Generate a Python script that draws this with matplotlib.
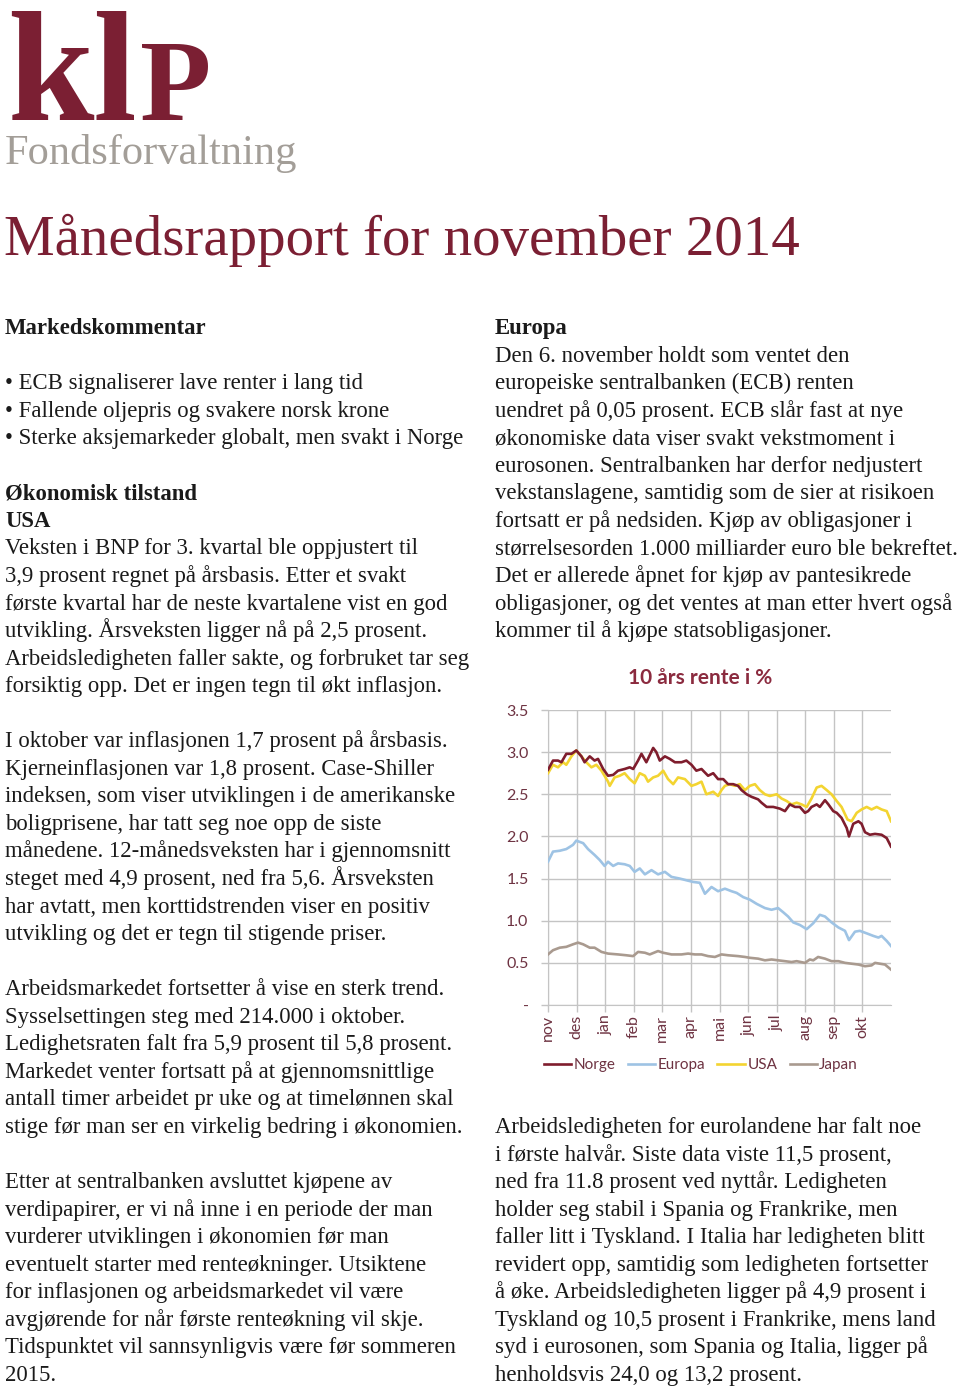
"""Klp Fondsforvaltning - månedsrapport november 2014, side med rentegraf."""

import matplotlib
matplotlib.use("Agg")
import matplotlib.pyplot as plt

# ---- data: 10 års rente i % (x = måneder etter 1. nov 2013) ----
months = ["nov", "des", "jan", "feb", "mar", "apr", "mai", "jun", "jul", "aug", "sep", "okt"]
y_ticks = [0.0, 0.5, 1.0, 1.5, 2.0, 2.5, 3.0, 3.5]
y_tick_labels = ["-", "0.5", "1.0", "1.5", "2.0", "2.5", "3.0", "3.5"]

norge_x = [0.00, 0.175, 0.35, 0.47, 0.64, 0.82, 0.99, 1.17, 1.28, 1.46, 1.63, 1.75, 1.93, 2.10,
           2.28, 2.45, 2.68, 2.86, 2.98, 3.15, 3.27, 3.44, 3.68, 3.79, 3.91, 4.09, 4.26, 4.44,
           4.67, 4.84, 5.02, 5.19, 5.37, 5.60, 5.78, 5.95, 6.13, 6.30, 6.48, 6.65, 6.77, 6.95,
           7.12, 7.35, 7.47, 7.65, 7.88, 8.11, 8.29, 8.46, 8.64, 8.81, 8.99, 9.10, 9.22, 9.40,
           9.51, 9.69, 9.81, 9.98, 10.10, 10.27, 10.45, 10.53, 10.68, 10.86, 10.97, 11.09,
           11.26, 11.44, 11.67, 11.85, 12.00]
norge_y = [2.79, 2.90, 2.90, 2.88, 2.98, 2.98, 3.02, 2.95, 2.88, 2.95, 2.90, 2.92, 2.80, 2.72,
           2.73, 2.78, 2.80, 2.82, 2.80, 2.90, 2.98, 2.88, 3.05, 3.00, 2.90, 2.95, 2.92, 2.88,
           2.88, 2.90, 2.85, 2.78, 2.80, 2.72, 2.75, 2.68, 2.68, 2.62, 2.62, 2.60, 2.55, 2.50,
           2.47, 2.44, 2.40, 2.35, 2.35, 2.33, 2.30, 2.38, 2.35, 2.35, 2.28, 2.30, 2.35, 2.38,
           2.35, 2.43, 2.38, 2.30, 2.28, 2.22, 2.10, 2.00, 2.15, 2.18, 2.15, 2.05,
           2.02, 2.03, 2.02, 1.98, 1.88]

europa_x = [0.00, 0.175, 0.41, 0.64, 0.875, 0.99, 1.23, 1.40, 1.63, 1.81, 1.98, 2.10, 2.28, 2.45,
            2.68, 2.86, 3.03, 3.21, 3.39, 3.62, 3.85, 4.09, 4.32, 4.61, 4.84, 5.08, 5.31, 5.49,
            5.72, 5.95, 6.19, 6.42, 6.60, 6.83, 7.06, 7.30, 7.59, 7.82, 8.05, 8.23, 8.40, 8.58,
            8.81, 9.05, 9.28, 9.51, 9.69, 9.92, 10.16, 10.39, 10.53, 10.74, 10.91, 11.15, 11.38,
            11.56, 11.67, 11.85, 12.00]
europa_y = [1.70, 1.82, 1.83, 1.85, 1.90, 1.95, 1.92, 1.85, 1.78, 1.72, 1.65, 1.70, 1.65, 1.68,
            1.67, 1.65, 1.58, 1.62, 1.55, 1.60, 1.55, 1.58, 1.52, 1.50, 1.48, 1.46, 1.45, 1.32,
            1.40, 1.35, 1.38, 1.35, 1.33, 1.28, 1.25, 1.20, 1.15, 1.13, 1.15, 1.10, 1.05, 0.98,
            0.95, 0.90, 0.97, 1.07, 1.05, 0.98, 0.92, 0.88, 0.77, 0.87, 0.88, 0.85, 0.82,
            0.80, 0.82, 0.76, 0.70]

usa_x = [0.00, 0.175, 0.35, 0.525, 0.64, 0.82, 0.99, 1.17, 1.34, 1.52, 1.69, 1.87, 2.10, 2.16,
         2.33, 2.51, 2.68, 2.86, 3.03, 3.21, 3.39, 3.50, 3.68, 3.85, 4.03, 4.20, 4.38, 4.55,
         4.79, 5.02, 5.19, 5.37, 5.54, 5.78, 5.95, 6.07, 6.19, 6.36, 6.54, 6.71, 6.89, 7.06,
         7.24, 7.41, 7.59, 7.76, 8.00, 8.17, 8.35, 8.52, 8.70, 8.87, 9.05, 9.22, 9.40, 9.57,
         9.75, 9.92, 10.10, 10.27, 10.48, 10.62, 10.80, 10.97, 11.15, 11.32, 11.50, 11.67,
         11.85, 12.00]
usa_y = [2.75, 2.85, 2.82, 2.88, 2.85, 2.95, 3.02, 2.95, 2.88, 2.82, 2.85, 2.78, 2.65, 2.60,
         2.70, 2.72, 2.75, 2.68, 2.63, 2.75, 2.72, 2.65, 2.70, 2.72, 2.78, 2.68, 2.62, 2.70,
         2.68, 2.60, 2.62, 2.65, 2.50, 2.53, 2.48, 2.55, 2.60, 2.62, 2.60, 2.62, 2.55, 2.60,
         2.62, 2.55, 2.50, 2.48, 2.50, 2.45, 2.42, 2.38, 2.40, 2.38, 2.35, 2.45, 2.58, 2.60,
         2.55, 2.50, 2.42, 2.35, 2.20, 2.18, 2.28, 2.32, 2.35, 2.32, 2.35, 2.32,
         2.30, 2.18]

japan_x = [0.00, 0.175, 0.41, 0.64, 0.875, 1.05, 1.23, 1.46, 1.63, 1.87, 2.10, 2.45, 2.74, 2.98,
           3.15, 3.39, 3.56, 3.85, 4.03, 4.32, 4.67, 4.90, 5.14, 5.37, 5.60, 5.84, 6.07, 6.30,
           6.65, 6.89, 7.06, 7.35, 7.59, 7.82, 8.05, 8.29, 8.52, 8.70, 8.99, 9.16, 9.28, 9.45,
           9.69, 9.92, 10.16, 10.39, 10.62, 10.86, 11.09, 11.32, 11.44, 11.61, 11.79, 12.00]
japan_y = [0.60, 0.65, 0.68, 0.69, 0.72, 0.74, 0.72, 0.68, 0.68, 0.63, 0.61, 0.60, 0.59, 0.58,
           0.63, 0.62, 0.60, 0.64, 0.62, 0.60, 0.60, 0.61, 0.60, 0.60, 0.58, 0.57, 0.60, 0.59,
           0.58, 0.57, 0.56, 0.55, 0.53, 0.54, 0.53, 0.52, 0.51, 0.52, 0.50, 0.54, 0.53, 0.57,
           0.55, 0.52, 0.52, 0.50, 0.49, 0.48, 0.46, 0.47, 0.50, 0.49, 0.48, 0.42]

# ---- text ----
left_lines = [
    ("Markedskommentar", True), ("", False),
    ("• ECB signaliserer lave renter i lang tid", False),
    ("• Fallende oljepris og svakere norsk krone", False),
    ("• Sterke aksjemarkeder globalt, men svakt i Norge", False), ("", False),
    ("Økonomisk tilstand", True),
    ("USA", True),
    ("Veksten i BNP for 3. kvartal ble oppjustert til", False),
    ("3,9 prosent regnet på årsbasis. Etter et svakt", False),
    ("første kvartal har de neste kvartalene vist en god", False),
    ("utvikling. Årsveksten ligger nå på 2,5 prosent.", False),
    ("Arbeidsledigheten faller sakte, og forbruket tar seg", False),
    ("forsiktig opp. Det er ingen tegn til økt inflasjon.", False), ("", False),
    ("I oktober var inflasjonen 1,7 prosent på årsbasis.", False),
    ("Kjerneinflasjonen var 1,8 prosent. Case-Shiller", False),
    ("indeksen, som viser utviklingen i de amerikanske", False),
    ("boligprisene, har tatt seg noe opp de siste", False),
    ("månedene. 12-månedsveksten har i gjennomsnitt", False),
    ("steget med 4,9 prosent, ned fra 5,6. Årsveksten", False),
    ("har avtatt, men korttidstrenden viser en positiv", False),
    ("utvikling og det er tegn til stigende priser.", False), ("", False),
    ("Arbeidsmarkedet fortsetter å vise en sterk trend.", False),
    ("Sysselsettingen steg med 214.000 i oktober.", False),
    ("Ledighetsraten falt fra 5,9 prosent til 5,8 prosent.", False),
    ("Markedet venter fortsatt på at gjennomsnittlige", False),
    ("antall timer arbeidet pr uke og at timelønnen skal", False),
    ("stige før man ser en virkelig bedring i økonomien.", False), ("", False),
    ("Etter at sentralbanken avsluttet kjøpene av", False),
    ("verdipapirer, er vi nå inne i en periode der man", False),
    ("vurderer utviklingen i økonomien før man", False),
    ("eventuelt starter med renteøkninger. Utsiktene", False),
    ("for inflasjonen og arbeidsmarkedet vil være", False),
    ("avgjørende for når første renteøkning vil skje.", False),
    ("Tidspunktet vil sannsynligvis være før sommeren", False),
    ("2015.", False),
]
right_top = [
    ("Europa", True),
    ("Den 6. november holdt som ventet den", False),
    ("europeiske sentralbanken (ECB) renten", False),
    ("uendret på 0,05 prosent. ECB slår fast at nye", False),
    ("økonomiske data viser svakt vekstmoment i", False),
    ("eurosonen. Sentralbanken har derfor nedjustert", False),
    ("vekstanslagene, samtidig som de sier at risikoen", False),
    ("fortsatt er på nedsiden. Kjøp av obligasjoner i", False),
    ("størrelsesorden 1.000 milliarder euro ble bekreftet.", False),
    ("Det er allerede åpnet for kjøp av pantesikrede", False),
    ("obligasjoner, og det ventes at man etter hvert også", False),
    ("kommer til å kjøpe statsobligasjoner.", False),
]
right_bottom = [
    "Arbeidsledigheten for eurolandene har falt noe",
    "i første halvår. Siste data viste 11,5 prosent,",
    "ned fra 11.8 prosent ved nyttår. Ledigheten",
    "holder seg stabil i Spania og Frankrike, men",
    "faller litt i Tyskland. I Italia har ledigheten blitt",
    "revidert opp, samtidig som ledigheten fortsetter",
    "å øke. Arbeidsledigheten ligger på 4,9 prosent i",
    "Tyskland og 10,5 prosent i Frankrike, mens land",
    "syd i eurosonen, som Spania og Italia, ligger på",
    "henholdsvis 24,0 og 13,2 prosent.",
]

W, H = 960, 1390
MAROON = "#7b1f33"
TEXT = "#1a1a1a"
LABEL = "#6e3342"

fig = plt.figure(figsize=(W / 100, H / 100), dpi=100)
fig.patch.set_facecolor("white")


def put(x, y, s, **kw):
    """Place text using pixel coordinates from the top-left corner."""
    return fig.text(x / W, 1 - y / H, s, **kw)


# logo
put(7, 120, "kl", fontsize=112, fontweight="bold", family="Liberation Serif",
    color=MAROON, va="baseline")
put(140, 120, "P", fontsize=84, fontweight="bold", family="Liberation Serif",
    color=MAROON, va="baseline")
put(5, 164, "Fondsforvaltning", fontsize=30.5, family="Liberation Serif",
    color="#a39e98", va="baseline")

# title
put(4, 255, "Månedsrapport for november 2014", fontsize=41,
    family="Liberation Serif", color=MAROON, va="baseline")

# body text
LINE0, PITCH = 327, 27.55
body = dict(fontsize=16.4, family="Liberation Serif", color=TEXT, va="baseline")
for i, (s, bold) in enumerate(left_lines):
    if s:
        put(5, LINE0 + i * PITCH + 7, s, fontweight="bold" if bold else "normal", **body)
for i, (s, bold) in enumerate(right_top):
    put(495, LINE0 + i * PITCH + 7, s, fontweight="bold" if bold else "normal", **body)
for i, s in enumerate(right_bottom):
    put(495, LINE0 + (29 + i) * PITCH + 7, s, **body)

# ---- chart ----
ax = fig.add_axes([548 / W, 1 - 1005 / H, 343 / W, 295 / H])
ax.plot(norge_x, norge_y, color="#7f1d2d", lw=1.9, label="Norge", zorder=4)
ax.plot(europa_x, europa_y, color="#9ec3e4", lw=1.9, label="Europa", zorder=3)
ax.plot(usa_x, usa_y, color="#f3d431", lw=1.9, label="USA", zorder=3)
ax.plot(japan_x, japan_y, color="#a99a8f", lw=1.9, label="Japan", zorder=3)

ax.set_xlim(0, 12)
ax.set_ylim(0, 3.5)
ax.set_yticks(y_ticks)
ax.set_yticklabels(y_tick_labels)
ax.set_xticks(range(len(months)))
ax.set_xticklabels(months, rotation=90)
ax.grid(True, color="#c4c4c4", lw=1.0)
ax.set_axisbelow(True)
for side in ["top", "right"]:
    ax.spines[side].set_visible(False)
for side in ["left", "bottom"]:
    ax.spines[side].set_color("#c4c4c4")
ax.tick_params(axis="both", colors="#c4c4c4", labelcolor=LABEL, labelsize=11.5,
               length=5, width=1.0)
ax.tick_params(axis="y", pad=9)
ax.tick_params(axis="x", pad=2)
for lbl in ax.get_xticklabels() + ax.get_yticklabels():
    lbl.set_family("Lato")

put(700, 678, "10 års rente i %", fontsize=15, fontweight="bold", family="Lato",
    color="#8b2b3f", ha="center", va="center")

leg = fig.legend(loc="center", bbox_to_anchor=(701 / W, 1 - 1065 / H), ncol=4,
                 frameon=False, handlelength=1.8, handletextpad=0.15,
                 columnspacing=0.8, prop={"family": "Lato", "size": 11})
for t in leg.get_texts():
    t.set_color(LABEL)

fig.savefig("out.png", dpi=100)
plt.close(fig)
